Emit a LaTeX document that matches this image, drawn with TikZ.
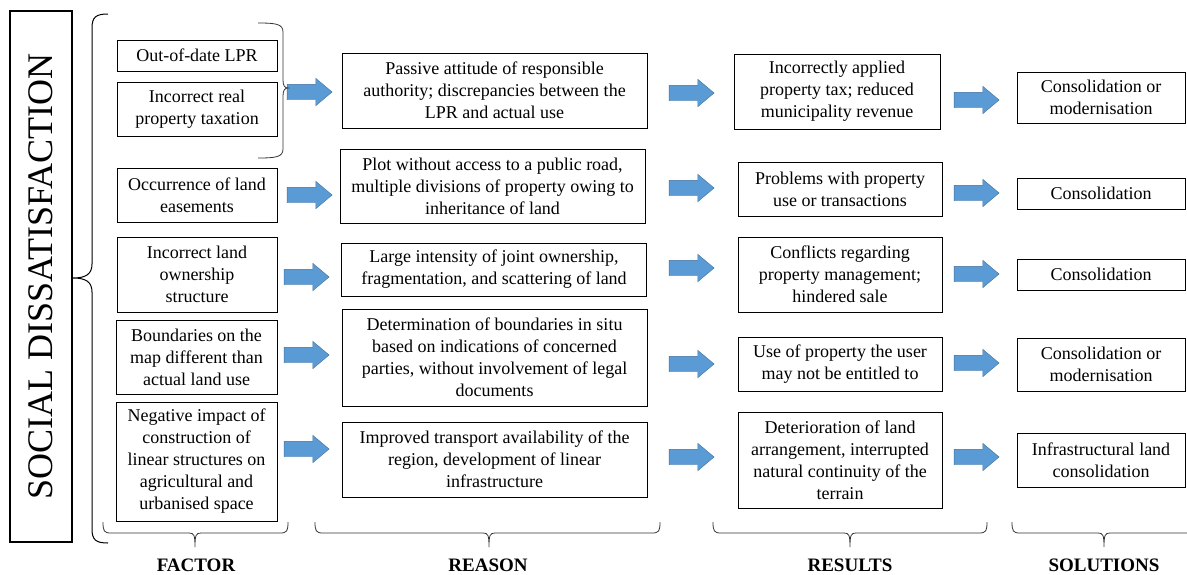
\documentclass[tikz,border=0pt]{standalone}
\usepackage{fontspec}
\setmainfont{Liberation Serif}
\usetikzlibrary{shapes.arrows}
\definecolor{arrblue}{RGB}{91,155,213}
\definecolor{arredge}{RGB}{65,113,156}
% brace under a column: left end, right end, tip
\newcommand{\colbrace}[3]{%
	\draw[brc] (#1,522) .. controls (#1,531) and (#1+1,533) .. (#1+8,533) -- (#3-6,533)
		.. controls (#3-1,533) and (#3,535) .. (#3,547)
		.. controls (#3,535) and (#3+1,533) .. (#3+6,533) -- (#2-8,533)
		.. controls (#2-1,533) and (#2,531) .. (#2,522);}

\begin{document}
\begin{tikzpicture}[x=1pt, y=-1pt,
	box/.style = {draw, line width=0.8pt, align=center, inner sep=0pt, font=\fontsize{18}{22}\selectfont},
	blockarr/.style = {single arrow, draw=arredge, fill=arrblue, line width=0.4pt, inner xsep=0pt, inner ysep=7.5pt,
		minimum height=45pt, single arrow head extend=6pt, single arrow tip angle=80},
	brc/.style = {line width=0.8pt, black!80},
	head/.style = {font=\fontsize{19}{22}\selectfont\bfseries}]
	\useasboundingbox (0,0) rectangle (1187,574);
	% left title
	\node[draw, line width=1.6pt, rotate=90, minimum width=531pt, minimum height=62pt, inner sep=0pt,
		font=\fontsize{36}{40}\selectfont] (sd) at (41,276.5) {SOCIAL DISSATISFACTION};
	% factor
	\node[box, minimum width=160pt, minimum height=31pt] (f1) at (197,55.5) {Out-of-date LPR};
	\node[box, minimum width=160pt, minimum height=54pt] (f2) at (197,109) {Incorrect real\\property taxation};
	\node[box, minimum width=160pt, minimum height=54pt] (f3) at (197,195) {Occurrence of land\\easements};
	\node[box, minimum width=160pt, minimum height=75pt] (f4) at (197,274.5) {Incorrect land\\ownership\\structure};
	\node[box, minimum width=161pt, minimum height=74pt] (f5) at (196.5,357) {Boundaries on the\\map different than\\actual land use};
	\node[box, minimum width=161pt, minimum height=119pt] (f6) at (196.5,461.5) {Negative impact of\\construction of\\linear structures on\\agricultural and\\urbanised space};
	% reason
	\node[box, minimum width=305pt, minimum height=75pt] (r1) at (494.5,90.5) {Passive attitude of responsible\\authority; discrepancies between the\\LPR and actual use};
	\node[box, minimum width=305pt, minimum height=74pt] (r2) at (492.5,186) {Plot without access to a public road,\\multiple divisions of property owing to\\inheritance of land};
	\node[box, minimum width=305pt, minimum height=53pt] (r3) at (494,269.5) {Large intensity of joint ownership,\\fragmentation, and scattering of land};
	\node[box, minimum width=305pt, minimum height=97pt] (r4) at (494.5,357.5) {Determination of boundaries in situ\\based on indications of concerned\\parties, without involvement of legal\\documents};
	\node[box, minimum width=305pt, minimum height=75pt] (r5) at (494.5,459.5) {Improved transport availability of the\\region, development of linear\\infrastructure};
	% results
	\node[box, minimum width=206pt, minimum height=75pt] (s1) at (837,91.5) {Incorrectly applied\\property tax; reduced\\municipality revenue};
	\node[box, minimum width=204pt, minimum height=54pt] (s2) at (840,189) {Problems with property\\use or transactions};
	\node[box, minimum width=204pt, minimum height=75pt] (s3) at (840,274.5) {Conflicts regarding\\property management;\\hindered sale};
	\node[box, minimum width=204pt, minimum height=54pt] (s4) at (840,364) {Use of property the user\\may not be entitled to};
	\node[box, minimum width=204pt, minimum height=96pt] (s5) at (840,460) {Deterioration of land\\arrangement, interrupted\\natural continuity of the\\terrain};
	% solutions
	\node[box, minimum width=168pt, minimum height=51pt] (c1) at (1101,97.5) {Consolidation or\\modernisation};
	\node[box, minimum width=168pt, minimum height=31pt] (c2) at (1101,193.5) {Consolidation};
	\node[box, minimum width=168pt, minimum height=31pt] (c3) at (1101,274.5) {Consolidation};
	\node[box, minimum width=168pt, minimum height=53pt] (c4) at (1101,364.5) {Consolidation or\\modernisation};
	\node[box, minimum width=168pt, minimum height=54pt] (c5) at (1101,460) {Infrastructural land\\consolidation};
	% arrows
	\node[blockarr] (a1) at (305,92) {};
	\node[blockarr] (a2) at (305,195) {};
	\node[blockarr] (a3) at (302,277) {};
	\node[blockarr] (a4) at (302,355) {};
	\node[blockarr] (a5) at (302,449) {};
	\node[blockarr] (b1) at (687,93) {};
	\node[blockarr] (b2) at (687,188) {};
	\node[blockarr] (b3) at (687,268) {};
	\node[blockarr] (b4) at (687,364) {};
	\node[blockarr] (b5) at (687,457) {};
	\node[blockarr] (d1) at (972,100) {};
	\node[blockarr] (d2) at (972,193) {};
	\node[blockarr] (d3) at (972,274) {};
	\node[blockarr] (d4) at (972,363) {};
	\node[blockarr] (d5) at (972,457) {};
	% braces
	\draw[brc, black, line width=1pt] (108,14) .. controls (96,14) and (92,17) .. (92,28) -- (92,264)
		.. controls (92,274) and (86,278) .. (73,278) .. controls (86,278) and (92,282) .. (92,292)
		-- (92,529) .. controls (92,540) and (96,543) .. (108,543);
	\draw[brc] (258,23) .. controls (276,23) and (283,24) .. (283,32) -- (283,80)
		.. controls (283,86) and (285,88) .. (288,88) .. controls (285,88) and (283,90) .. (283,96)
		-- (283,149) .. controls (283,157) and (276,158) .. (258,158);
	\colbrace{103}{288}{195}
	\colbrace{315}{660}{489}
	\colbrace{713}{987}{850}
	\colbrace{1012}{1196}{1104}
	% column heads
	\node[head] (hf) at (196,565.5) {FACTOR};
	\node[head] (hr) at (488,565.5) {REASON};
	\node[head] (hs) at (850,565.5) {RESULTS};
	\node[head] (hc) at (1104,565.5) {SOLUTIONS};
\end{tikzpicture}
\end{document}
